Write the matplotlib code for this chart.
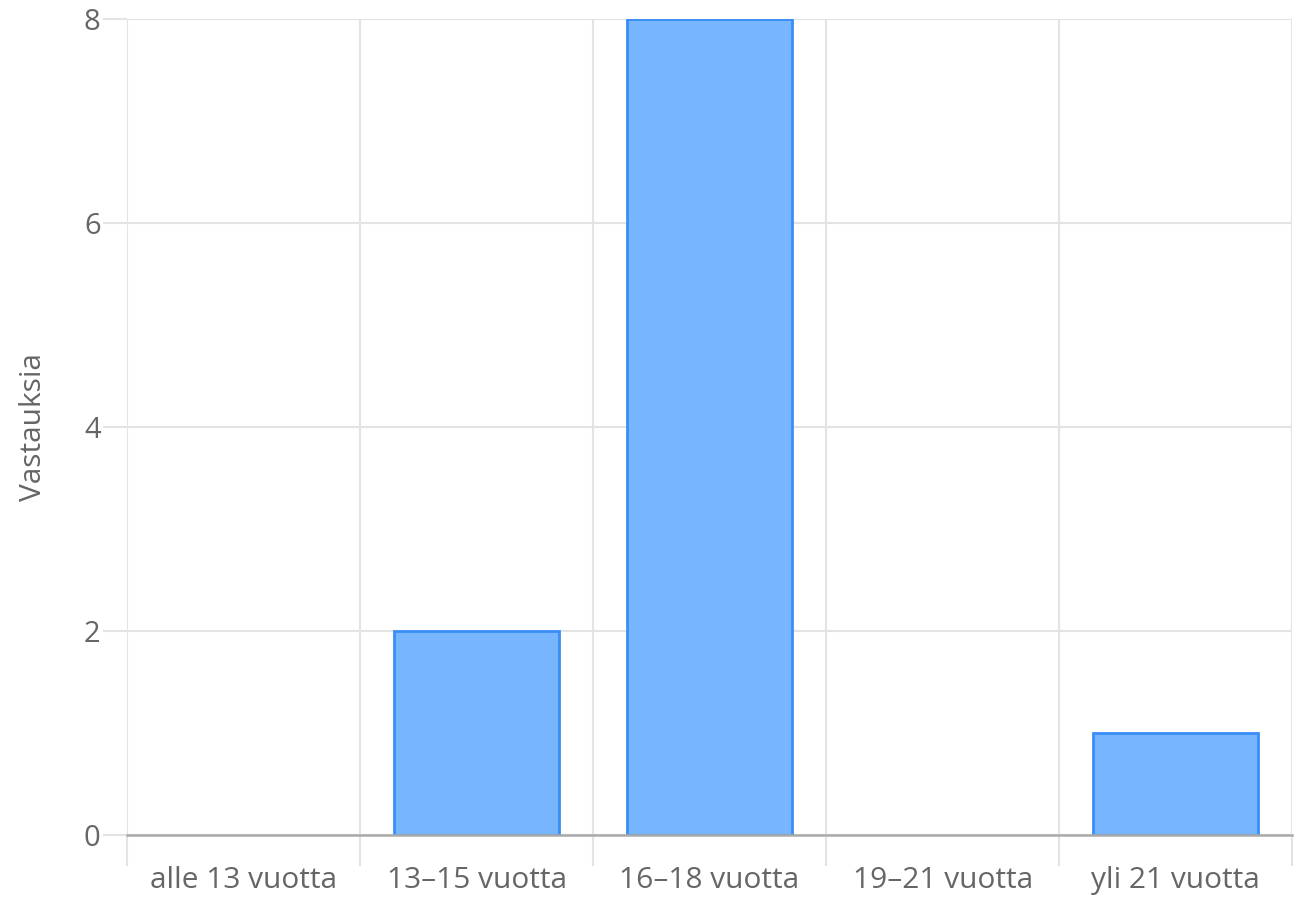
import numpy as np
import matplotlib.pyplot as plt

plt.rcParams['font.family'] = ['Open Sans', 'DejaVu Sans']

categories = ["alle 13 vuotta", "13\u201315 vuotta", "16\u201318 vuotta",
              "19\u201321 vuotta", "yli 21 vuotta"]
values = [0, 2, 8, 0, 1]

txt = '#666666'
grid = '#e3e3e3'

fig = plt.figure(figsize=(12.96, 8.99), dpi=100)
ax = fig.add_axes([0.098, 0.071, 0.899, 0.908])

x = np.arange(len(categories))
# zero bars get no outline, so nothing shows on the baseline
edges = ['#3a8ef6' if v > 0 else 'none' for v in values]
ax.bar(x, values, width=0.71, color='#77b5fe', edgecolor=edges,
       linewidth=2, zorder=3)

ax.set_xlim(-0.5, len(categories) - 0.5)
ax.set_ylim(0, 8)
ax.set_yticks([0, 2, 4, 6, 8])
ax.set_xticks(x)
ax.set_xticklabels(categories)
ax.set_xticks(np.arange(len(categories) + 1) - 0.5, minor=True)

ax.grid(axis='y', color=grid, linewidth=1.5, zorder=0)
ax.grid(axis='x', which='minor', color=grid, linewidth=1.5, zorder=0)
ax.tick_params(axis='x', which='major', length=0, pad=22, labelsize=21.5,
               labelcolor=txt)
ax.tick_params(axis='x', which='minor', length=22, width=1.5, color=grid)
ax.tick_params(axis='y', length=17, width=1.5, color=grid, pad=2,
               labelsize=21, labelcolor=txt)

for s in ['top', 'right', 'left']:
    ax.spines[s].set_visible(False)
ax.spines['bottom'].set_color('#aaaaaa')
ax.spines['bottom'].set_linewidth(1.8)
ax.spines['bottom'].set_zorder(4)

ax.set_ylabel('Vastauksia', fontsize=21.5, color=txt, labelpad=26)

fig.savefig('out.png', dpi=100)
